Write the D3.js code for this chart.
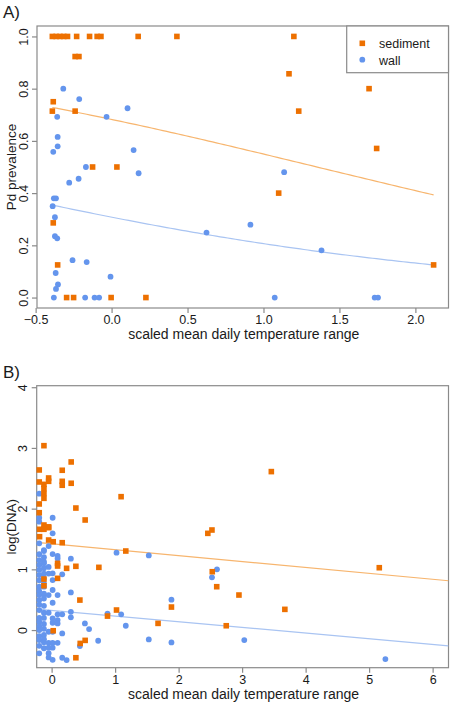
<!DOCTYPE html>
<html><head><meta charset="utf-8">
<script src="https://cdn.jsdelivr.net/npm/d3@7"></script>
<style>
html,body{margin:0;padding:0;background:#fff;}
svg{display:block;font-family:"Liberation Sans",Arial,sans-serif;}
</style></head><body>
<svg id="chart" width="451" height="704"></svg>
<script>
// ---------- Panel A data ----------
const sedA_x = [-0.39,-0.365,-0.34,-0.315,-0.29,-0.23,-0.145,-0.095,-0.07,0.175,0.43,1.20,
  -0.24,-0.215,1.168,1.695,-0.384,-0.39,-0.24,1.232,1.745,-0.125,0.035,1.10,-0.384,-0.355,2.12,
  -0.296,-0.25,-0.003,0.226];
const sedA_y = [1,1,1,1,1,1,1,1,1,1,1,1,
  0.923,0.923,0.857,0.8,0.75,0.714,0.714,0.714,0.571,0.5,0.5,0.4,0.286,0.125,0.125,
  0,0,0,0];
const wallA_x = [-0.318,-0.213,0.105,-0.358,-0.033,-0.355,-0.355,-0.384,0.145,-0.169,0.178,-0.217,
  -0.279,-0.38,-0.366,-0.388,-0.373,-0.373,-0.358,-0.257,-0.164,-0.368,-0.007,-0.353,-0.366,
  -0.38,-0.174,-0.112,-0.082,1.074,1.732,1.754,0.914,0.625,1.382,1.136];
const wallA_y = [0.8,0.76,0.725,0.692,0.692,0.615,0.579,0.558,0.565,0.5,0.476,0.455,
  0.44,0.38,0.38,0.35,0.308,0.235,0.227,0.143,0.136,0.094,0.08,0.05,0.033,
  0,0,0,0,0,0,0,0.279,0.249,0.181,0.48];
// logistic fits: [intercept, slope], fitted over x range
const fitA_sed = [0.764,-0.565];
const fitA_wall = [-0.810,-0.536];
const fitA_range = [-0.39,2.12];
const xTicksA = [-0.5,0,0.5,1,1.5,2];
const yTicksA = [0,0.2,0.4,0.6,0.8,1];

// ---------- Panel B data ----------
const sedB_x = [-0.121,0.308,-0.195,0.167,-0.195,-0.047,-0.047,0.167,0.167,0.308,-0.121,-0.121,-0.121,-0.121,
  -0.195,0.382,1.094,0.528,-0.195,-0.121,-0.047,2.46,2.525,1.168,0.744,0.382,0.236,0.094,0.094,0.094,
  0.167,0.025,-0.047,-0.19,-0.19,-0.121,-0.047,5.16,2.53,2.6,2.95,-0.121,-0.121,0.445,1.887,3.673,
  1.022,0.88,1.676,2.75,0.025,0.528,0.45,0.382,3.46];
const sedB_y = [3.037,2.769,2.637,2.632,2.439,2.505,2.45,2.45,2.385,2.418,2.40,2.33,2.25,2.17,
  2.077,2.01,2.197,1.813,1.933,1.73,1.70,1.593,1.648,1.302,1.033,1.05,1.017,1.099,1.055,0.852,
  1.439,1.455,1.483,1.538,1.66,1.66,1.686,1.027,0.961,0.714,0.577,0.84,0.73,0.494,0.379,0.341,
  0.33,0.23,0.11,0.071,-0.011,-0.17,-0.22,-0.456,2.61];
const wallB_x = [
  -0.195,-0.195,-0.195,-0.195,-0.195,-0.195,-0.195,-0.195,-0.195,-0.195,-0.195,-0.195,-0.195,-0.195,
  -0.195,-0.195,-0.195,-0.195,-0.195,-0.195,-0.195,-0.195,-0.195,-0.195,
  -0.121,-0.121,-0.121,-0.121,-0.121,-0.121,-0.121,-0.121,-0.121,-0.121,-0.121,-0.121,-0.121,-0.121,
  -0.121,-0.121,-0.121,-0.121,-0.121,-0.121,-0.121,
  -0.047,-0.047,-0.047,-0.047,-0.047,-0.047,-0.047,-0.047,-0.047,-0.047,
  0.016,0.016,0.016,0.016,0.016,0.016,0.016,0.016,0.016,0.016,0.016,0.016,0.016,
  0.094,0.094,0.094,0.094,0.094,0.094,0.094,
  0.167,0.167,0.167,0.167,0.236,0.303,0.303,0.303,0.303,
  0.445,0.524,0.59,0.733,0.88,1.022,1.095,1.168,1.53,1.53,1.887,1.887,2.525,2.604,3.034,5.256];
const wallB_y = [
  2.246,1.85,1.785,1.428,1.25,1.15,1.07,0.99,0.906,0.82,0.714,0.64,0.577,0.494,
  0.42,0.33,0.2,0.137,0.06,0.0,-0.1,-0.165,-0.26,-0.384,
  1.318,1.302,1.2,1.126,1.10,1.02,0.93,0.85,0.77,0.714,0.6,0.52,0.4,0.285,
  0.2,0.1,0.02,-0.08,-0.15,-0.2,-0.3,
  1.384,1.04,0.93,0.577,0.285,-0.028,-0.21,-0.29,-0.38,-0.45,
  1.85,1.593,1.252,0.934,0.824,0.66,0.45,0.19,0.12,-0.028,-0.21,-0.29,-0.49,
  1.22,1.18,0.577,0.259,0.165,0.11,-0.21,
  0.918,0.259,-0.055,-0.456,-0.494,1.175,0.62,0.3,0.21,
  -0.264,0.11,0.016,-0.176,0.272,1.274,0.259,0.071,1.23,-0.154,0.5,-0.203,0.868,1.0,-0.165,-0.478];
// linear fits: [intercept, slope]
const fitB_sed = [1.422,-0.0975];
const fitB_wall = [0.324,-0.0933];
const xTicksB = [0,1,2,3,4,5,6];
const yTicksB = [0,1,2,3,4];

const ORANGE = "#ED7000", BLUE = "#6495ED";
const ORANGE_L = "#F7B56E", BLUE_L = "#A9C4F2";
const FRAME = "#8a8a8a", TXT = "#1a1a1a";
const TICKFS = "12.5px", LABFS = "14px";

const svg = d3.select("#chart");

function panel(opt){
  const {x, y, xTicks, yTicks, xFmt, yFmt, label, ylab, top, bottom, left, right} = opt;
  const g = svg.append("g");
  // frame
  g.append("rect").attr("x", left).attr("y", top).attr("width", right-left).attr("height", bottom-top)
    .attr("fill","none").attr("stroke",FRAME).attr("stroke-width",1.2);
  // x axis
  const xa = g.append("g").attr("transform",`translate(0,${bottom})`)
    .call(d3.axisBottom(x).tickValues(xTicks).tickFormat(xFmt).tickSize(5).tickPadding(2));
  xa.select(".domain").remove();
  xa.selectAll("line").attr("stroke",FRAME).attr("stroke-width",1.2);
  xa.selectAll("text").attr("fill",TXT).style("font-size",TICKFS)
    .style("font-family","'Liberation Sans',Arial,sans-serif");
  // y axis
  const ya = g.append("g").attr("transform",`translate(${left},0)`)
    .call(d3.axisLeft(y).tickValues(yTicks).tickFormat(yFmt).tickSize(5));
  ya.select(".domain").remove();
  ya.selectAll("line").attr("stroke",FRAME).attr("stroke-width",1.2);
  ya.selectAll("text").attr("fill",TXT).style("font-size",TICKFS)
    .style("font-family","'Liberation Sans',Arial,sans-serif")
    .attr("x",0).attr("dy","0")
    .attr("text-anchor","middle")
    .attr("transform","translate(-9.5,0) rotate(-90)");
  // labels
  g.append("text").attr("x", (left+right)/2 + 1).attr("y", bottom+31)
    .attr("text-anchor","middle").attr("fill",TXT).style("font-size",LABFS)
    .text("scaled mean daily temperature range");
  g.append("text").attr("transform",`translate(15.5,${(top+bottom)/2}) rotate(-90)`)
    .attr("text-anchor","middle").attr("fill",TXT).style("font-size","13.5px").text(ylab);
  g.append("text").attr("x",3).attr("y",top-8).attr("fill",TXT).style("font-size","17px").text(label);
  return g;
}

// ---- Panel A ----
const xA = d3.scaleLinear().domain([-0.491,2.218]).range([37,448.5]);
const yA = d3.scaleLinear().domain([-0.04,1.04]).range([308,26]);
const gA = panel({x:xA,y:yA,xTicks:xTicksA,yTicks:yTicksA,xFmt:d3.format(".1f"),yFmt:d3.format(".1f"),
  label:"A)",ylab:"Pd prevalence",top:26,bottom:308,left:37,right:448.5});
const logistic = (c,v)=>1/(1+Math.exp(-(c[0]+c[1]*v)));
const xsA = d3.range(fitA_range[0], fitA_range[1]+1e-9, (fitA_range[1]-fitA_range[0])/100);
const lineA = d3.line().x(d=>xA(d[0])).y(d=>yA(d[1]));
gA.append("path").datum(xsA.map(v=>[v,logistic(fitA_sed,v)])).attr("d",lineA)
  .attr("fill","none").attr("stroke",ORANGE_L).attr("stroke-width",1.2);
gA.append("path").datum(xsA.map(v=>[v,logistic(fitA_wall,v)])).attr("d",lineA)
  .attr("fill","none").attr("stroke",BLUE_L).attr("stroke-width",1.2);
const SQ = 5.6, R = 2.9;
gA.selectAll(".sa").data(sedA_x.map((v,i)=>[v,sedA_y[i]])).enter().append("rect")
  .attr("x",d=>xA(d[0])-SQ/2).attr("y",d=>yA(d[1])-SQ/2).attr("width",SQ).attr("height",SQ).attr("fill",ORANGE);
gA.selectAll(".wa").data(wallA_x.map((v,i)=>[v,wallA_y[i]])).enter().append("circle")
  .attr("cx",d=>xA(d[0])).attr("cy",d=>yA(d[1])).attr("r",R).attr("fill",BLUE);
// legend
const lg = gA.append("g");
lg.append("rect").attr("x",346.7).attr("y",26).attr("width",448.5-346.7).attr("height",46.7)
  .attr("fill","#fff").attr("stroke",FRAME).attr("stroke-width",1.2);
lg.append("rect").attr("x",362.3-SQ/2).attr("y",43.3-SQ/2).attr("width",SQ).attr("height",SQ).attr("fill",ORANGE);
lg.append("circle").attr("cx",362.3).attr("cy",59.7).attr("r",R).attr("fill",BLUE);
lg.append("text").attr("x",379).attr("y",48).attr("fill",TXT).style("font-size","12.5px").text("sediment");
lg.append("text").attr("x",379).attr("y",64.5).attr("fill",TXT).style("font-size","12.5px").text("wall");

// ---- Panel B ----
const xB = d3.scaleLinear().domain([-0.235,6.25]).range([36.7,448.5]);
const yB = d3.scaleLinear().domain([-0.62,4.025]).range([667.7,385.7]);
const gB = panel({x:xB,y:yB,xTicks:xTicksB,yTicks:yTicksB,xFmt:d3.format("d"),yFmt:d3.format("d"),
  label:"B)",ylab:"log(DNA)",top:385.7,bottom:667.7,left:36.7,right:448.5});
gB.append("clipPath").attr("id","clipB").append("rect").attr("x",36.7).attr("y",385.7)
  .attr("width",448.5-36.7).attr("height",282);
const lineB = d3.line().x(d=>xB(d[0])).y(d=>yB(d[1]));
const xdB = xB.domain();
gB.append("path").datum(xdB.map(v=>[v,fitB_sed[0]+fitB_sed[1]*v])).attr("d",lineB)
  .attr("clip-path","url(#clipB)").attr("fill","none").attr("stroke",ORANGE_L).attr("stroke-width",1.2);
gB.append("path").datum(xdB.map(v=>[v,fitB_wall[0]+fitB_wall[1]*v])).attr("d",lineB)
  .attr("clip-path","url(#clipB)").attr("fill","none").attr("stroke",BLUE_L).attr("stroke-width",1.2);
gB.selectAll(".wb").data(wallB_x.map((v,i)=>[v,wallB_y[i]])).enter().append("circle")
  .attr("cx",d=>xB(d[0])).attr("cy",d=>yB(d[1])).attr("r",R).attr("fill",BLUE);
gB.selectAll(".sb").data(sedB_x.map((v,i)=>[v,sedB_y[i]])).enter().append("rect")
  .attr("x",d=>xB(d[0])-SQ/2).attr("y",d=>yB(d[1])-SQ/2).attr("width",SQ).attr("height",SQ).attr("fill",ORANGE);
</script>
</body></html>
